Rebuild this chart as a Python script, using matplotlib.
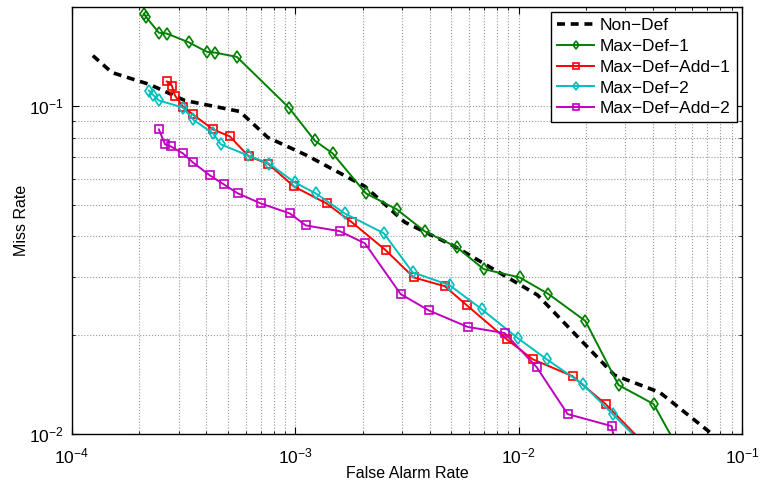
import matplotlib
matplotlib.use('Agg')
import matplotlib.pyplot as plt
import numpy as np

plt.rcParams['font.family'] = ['Liberation Sans', 'DejaVu Sans']
plt.rcParams['mathtext.fontset'] = 'custom'
plt.rcParams['mathtext.rm'] = 'Liberation Sans'
plt.rcParams['mathtext.it'] = 'Liberation Sans:italic'

# datos (tasa de falsa alarma, tasa de perdida)
nondef_x = [1.24e-4, 1.51e-4, 2.23e-4, 3.20e-4, 5.64e-4, 7.53e-4, 1.126e-3, 2.05e-3,
            3.09e-3, 5.17e-3, 1.216e-2, 2.69e-2, 4.28e-2, 7.92e-2]
nondef_y = [0.1422, 0.1263, 0.1161, 0.1038, 0.0961, 0.0801, 0.0706, 0.0568,
            0.0442, 0.0373, 0.0265, 0.0151, 0.0134, 0.0096]

maxdef1_x = [2.10e-4, 2.14e-4, 2.45e-4, 2.66e-4, 3.34e-4, 4.02e-4, 4.37e-4, 5.47e-4,
             9.35e-4, 1.22e-3, 1.47e-3, 2.07e-3, 2.84e-3, 3.79e-3, 5.28e-3, 6.97e-3,
             1.01e-2, 1.36e-2, 1.99e-2, 2.80e-2, 4.02e-2, 5.25e-2]
maxdef1_y = [0.1909, 0.1869, 0.167, 0.166, 0.156, 0.146, 0.1452, 0.141,
             0.0988, 0.0784, 0.0716, 0.0541, 0.0484, 0.0415, 0.0371, 0.0318,
             0.0300, 0.0267, 0.0221, 0.0141, 0.01234, 0.00888]

maxdefadd1_x = [2.66e-4, 2.80e-4, 2.89e-4, 3.14e-4, 3.48e-4, 4.28e-4, 5.09e-4, 6.19e-4,
                7.53e-4, 9.85e-4, 1.38e-3, 1.79e-3, 2.54e-3, 3.39e-3, 4.67e-3, 5.85e-3,
                8.83e-3, 1.155e-2, 1.744e-2, 2.45e-2, 3.85e-2]
maxdefadd1_y = [0.1186, 0.1153, 0.1075, 0.0995, 0.0941, 0.0847, 0.0807, 0.0701,
                0.0667, 0.0568, 0.0504, 0.0442, 0.0363, 0.0300, 0.0282, 0.0247,
                0.01945, 0.0169, 0.0150, 0.01234, 0.0090]

maxdef2_x = [2.21e-4, 2.30e-4, 2.45e-4, 3.14e-4, 3.48e-4, 4.28e-4, 4.64e-4, 6.13e-4,
             7.61e-4, 9.95e-4, 1.235e-3, 1.665e-3, 2.49e-3, 3.35e-3, 4.91e-3, 6.83e-3,
             9.9e-3, 1.334e-2, 1.934e-2, 2.634e-2, 3.85e-2]
maxdef2_y = [0.1113, 0.1082, 0.1038, 0.0988, 0.0909, 0.0824, 0.0763, 0.0706,
             0.0667, 0.0584, 0.0541, 0.0470, 0.0409, 0.0311, 0.0284, 0.0240,
             0.0196, 0.0169, 0.0142, 0.0115, 0.00888]

maxdefadd2_x = [2.45e-4, 2.61e-4, 2.77e-4, 3.14e-4, 3.48e-4, 4.14e-4, 4.79e-4, 5.53e-4,
                7.01e-4, 9.45e-4, 1.114e-3, 1.58e-3, 2.05e-3, 2.96e-3, 3.96e-3, 5.91e-3,
                8.66e-3, 1.203e-2, 1.657e-2, 2.61e-2, 2.89e-2]
maxdefadd2_y = [0.0847, 0.0763, 0.0752, 0.0716, 0.0672, 0.0614, 0.0576, 0.0541,
                0.0504, 0.0470, 0.0432, 0.0415, 0.0381, 0.0267, 0.0238, 0.0212,
                0.0203, 0.0160, 0.0115, 0.01057, 0.00724]

fig = plt.figure(figsize=(7.61, 4.87), dpi=100)
ax = fig.add_axes([0.0946, 0.1088, 0.8804, 0.8768])

ax.plot(nondef_x, nondef_y, 'k--', lw=2.6, dashes=(2.2, 1.6), label='Non−Def')
ax.plot(maxdef1_x, maxdef1_y, '-d', color='#008000', lw=1.4, ms=6.5, mfc='none',
        mew=1.2, label='Max−Def−1')
ax.plot(maxdefadd1_x, maxdefadd1_y, '-s', color='#ff0000', lw=1.4, ms=5.5, mfc='none',
        mew=1.2, label='Max−Def−Add−1')
ax.plot(maxdef2_x, maxdef2_y, '-d', color='#00bfbf', lw=1.4, ms=6.5, mfc='none',
        mew=1.2, label='Max−Def−2')
ax.plot(maxdefadd2_x, maxdefadd2_y, '-s', color='#bf00bf', lw=1.4, ms=5.5, mfc='none',
        mew=1.2, label='Max−Def−Add−2')

ax.set_xscale('log')
ax.set_yscale('log')
ax.set_xlim(1e-4, 1e-1)
ax.set_ylim(1e-2, 0.2)

ax.grid(True, which='both', linestyle=':', color='#999999', linewidth=0.8)
ax.tick_params(which='both', direction='in', top=True, right=True, labelsize=12.5)
ax.tick_params(axis='x', which='major', pad=9)
ax.tick_params(axis='y', which='major', pad=6)
ax.tick_params(which='major', length=5)
ax.tick_params(which='minor', length=2.5)
for s in ax.spines.values():
    s.set_linewidth(1.0)

ax.set_xlabel('False Alarm Rate', fontsize=11.5, labelpad=0)
ax.set_ylabel('Miss Rate', fontsize=11.5, labelpad=0)

leg = ax.legend(loc='upper right', fontsize=12.5, handlelength=2.1, borderpad=0.35,
                labelspacing=0.32, handletextpad=0.35, fancybox=False, framealpha=1,
                edgecolor='black', borderaxespad=0.3, markerscale=0.7)
leg.get_frame().set_linewidth(1.0)

plt.savefig('out.png', dpi=100)
